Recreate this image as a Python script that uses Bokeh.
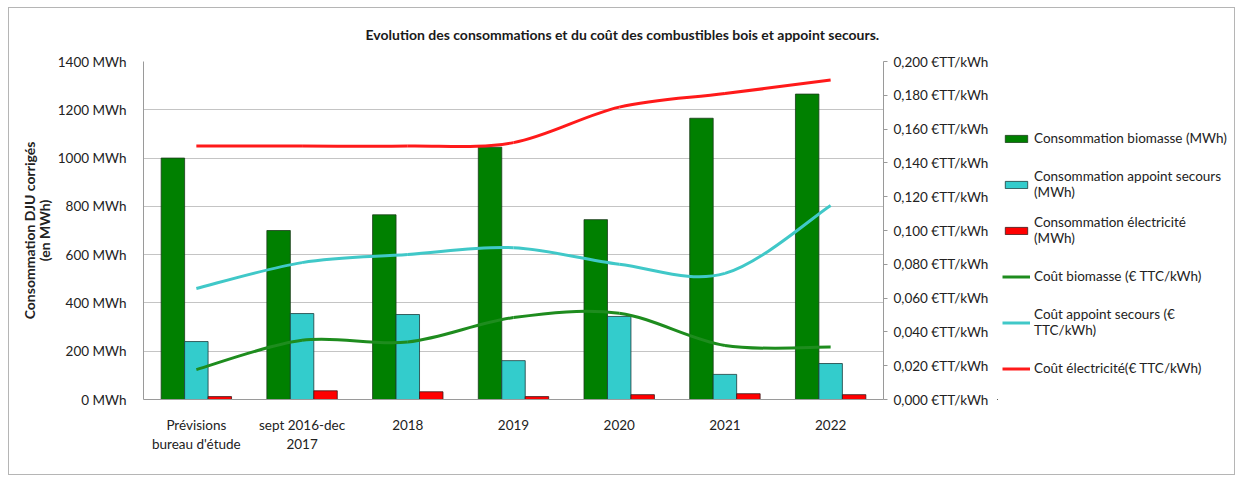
import numpy as np
from bokeh.plotting import figure
from bokeh.layouts import row
from bokeh.models import (LinearAxis, Range1d, FixedTicker, CustomJSTickFormatter,
                          Legend, LegendItem, ColumnDataSource)
from bokeh.transform import dodge
from bokeh.embed import file_html
from bokeh.resources import INLINE

# ---------------- data ----------------
categories = ["Prévisions\nbureau d'étude", "sept 2016-dec\n2017", "2018", "2019",
              "2020", "2021", "2022"]
conso_biomasse = [1000, 700, 765, 1045, 745, 1165, 1265]
conso_appoint = [240, 356, 352, 161, 344, 104, 149]
conso_elec = [12, 36, 32, 12, 20, 24, 20]
cout_biomasse = [0.0177, 0.035, 0.034, 0.0485, 0.051, 0.032, 0.031]
cout_appoint = [0.0657, 0.081, 0.0858, 0.0898, 0.080, 0.0746, 0.1148]
cout_elec = [0.150, 0.150, 0.150, 0.152, 0.173, 0.181, 0.189]

left_ticks = [0, 200, 400, 600, 800, 1000, 1200, 1400]
left_tick_labels = ["0 MWh", "200 MWh", "400 MWh", "600 MWh", "800 MWh",
                    "1000 MWh", "1200 MWh", "1400 MWh"]
right_ticks = [0.0, 0.02, 0.04, 0.06, 0.08, 0.10, 0.12, 0.14, 0.16, 0.18, 0.20]
right_tick_labels = ["0,000 €TT/kWh", "0,020 €TT/kWh", "0,040 €TT/kWh", "0,060 €TT/kWh",
                     "0,080 €TT/kWh", "0,100 €TT/kWh", "0,120 €TT/kWh", "0,140 €TT/kWh",
                     "0,160 €TT/kWh", "0,180 €TT/kWh", "0,200 €TT/kWh"]

series_labels = ["Consommation biomasse (MWh)",
                 "Consommation appoint secours\n(MWh)",
                 "Consommation électricité\n(MWh)",
                 "Coût biomasse (€ TTC/kWh)",
                 "Coût appoint secours (€\nTTC/kWh)",
                 "Coût électricité(€ TTC/kWh)"]

title_text = "Evolution des consommations et du coût des combustibles bois et appoint secours."
y_label = "Consommation DJU corrigés\n(en MWh)"

FONT = "Lato"
GREEN = "#008000"
CYAN = "#33CCCC"
RED = "#FF0000"
LGREEN = "#1E8C1E"
LCYAN = "#40C8C8"
LRED = "#FF1A1A"
BORDER = "1px solid #b5b5b5"

n = len(categories)
xc = np.arange(n) + 0.5

src = ColumnDataSource(dict(x=xc, bio=conso_biomasse, app=conso_appoint, ele=conso_elec))

H = 468
p = figure(width=989, height=H, output_backend="svg", toolbar_location=None,
           x_range=Range1d(0, n), y_range=Range1d(0, 1400),
           min_border_left=134, min_border_right=115, min_border_top=53,
           min_border_bottom=77)
p.extra_y_ranges = {"cost": Range1d(0, 0.2)}
p.outline_line_color = None
p.background_fill_color = "white"
p.border_fill_color = "white"
p.styles = {"border-left": BORDER, "border-top": BORDER, "border-bottom": BORDER}

p.title.text = title_text
p.title.text_font = FONT
p.title.text_font_size = "14px"
p.title.text_font_style = "bold"
p.title.text_color = "#1a1a1a"
p.title.align = "left"
p.title.offset = 222
p.title.vertical_align = "top"
p.title.standoff = 33

bar_style = dict(line_width=0.8)
bw = 0.222
r_bio = p.vbar(x=dodge("x", -bw, range=p.x_range), top="bio", width=bw, source=src,
               fill_color=GREEN, line_color="#1b3b1b", **bar_style)
r_app = p.vbar(x=dodge("x", 0, range=p.x_range), top="app", width=bw, source=src,
               fill_color=CYAN, line_color="#1b3b3b", **bar_style)
r_ele = p.vbar(x=dodge("x", bw, range=p.x_range), top="ele", width=bw, source=src,
               fill_color=RED, line_color="#3b1b1b", **bar_style)


def smooth(xs, ys):
    xs = np.asarray(xs, float)
    ys = np.asarray(ys, float)
    px = np.concatenate([[xs[0]], xs, [xs[-1]]])
    py = np.concatenate([[ys[0]], ys, [ys[-1]]])
    d = {}
    d["x0"] = xs[:-1]
    d["y0"] = ys[:-1]
    d["x1"] = xs[1:]
    d["y1"] = ys[1:]
    d["cx0"] = xs[:-1] + (px[2:-1] - px[0:-3]) / 6
    d["cy0"] = ys[:-1] + (py[2:-1] - py[0:-3]) / 6
    d["cx1"] = xs[1:] - (px[3:] - px[1:-2]) / 6
    d["cy1"] = ys[1:] - (py[3:] - py[1:-2]) / 6
    return ColumnDataSource(d)


def curve(ys, color):
    return p.bezier(x0="x0", y0="y0", x1="x1", y1="y1", cx0="cx0", cy0="cy0",
                    cx1="cx1", cy1="cy1", source=smooth(xc, ys), line_color=color,
                    line_width=3, y_range_name="cost")


r_cb = curve(cout_biomasse, LGREEN)
r_ca = curve(cout_appoint, LCYAN)
r_ce = curve(cout_elec, LRED)

# axes
fmt_code = """
let i = tk.findIndex(t => Math.abs(t - tick) < 1e-6);
return i >= 0 ? lb[i] : '';
"""
yax = p.yaxis[0]
yax.ticker = FixedTicker(ticks=left_ticks)
yax.formatter = CustomJSTickFormatter(args=dict(tk=left_ticks, lb=left_tick_labels),
                                      code=fmt_code)
yax.major_tick_line_color = None
yax.minor_tick_line_color = None
yax.axis_line_color = "#9a9a9a"
yax.major_label_text_font = FONT
yax.major_label_text_font_size = "13.5px"
yax.major_label_text_color = "#222222"
yax.major_label_standoff = 11
yax.axis_label = y_label
yax.axis_label_text_font = FONT
yax.axis_label_text_font_size = "14px"
yax.axis_label_text_font_style = "bold"
yax.axis_label_text_color = "#222222"
yax.axis_label_text_line_height = 0.85
yax.axis_label_standoff = 2

xax = p.xaxis[0]
xax.ticker = FixedTicker(ticks=list(xc))
xax.formatter = CustomJSTickFormatter(args=dict(tk=list(xc), lb=categories),
                                      code=fmt_code)
xax.major_tick_line_color = None
xax.minor_tick_line_color = None
xax.axis_line_color = "#9a9a9a"
xax.major_label_text_font = FONT
xax.major_label_text_font_size = "13.5px"
xax.major_label_text_color = "#222222"
xax.major_label_standoff = 11

rax = LinearAxis(y_range_name="cost", ticker=FixedTicker(ticks=right_ticks),
                 formatter=CustomJSTickFormatter(args=dict(tk=right_ticks,
                                                           lb=right_tick_labels),
                                                 code=fmt_code))
rax.axis_line_color = "#9a9a9a"
rax.major_tick_line_color = "#9a9a9a"
rax.major_tick_out = 4
rax.major_tick_in = 0
rax.minor_tick_line_color = None
rax.major_label_text_font = FONT
rax.major_label_text_font_size = "13.5px"
rax.major_label_text_color = "#222222"
rax.major_label_standoff = 6
p.add_layout(rax, "right")

p.xgrid.visible = False
p.ygrid[0].ticker = FixedTicker(ticks=left_ticks)
p.ygrid.grid_line_color = "#c4c4c4"
p.ygrid.grid_line_width = 1

# ---- legend panel (separate figure, proxy glyphs styled like the series,
#      placed outside the visible range so only their legend swatches show) ----
pl = figure(width=238, height=H, output_backend="svg", toolbar_location=None,
            x_range=Range1d(0, 1), y_range=Range1d(0, 1),
            x_axis_type=None, y_axis_type=None,
            min_border_left=0, min_border_right=0, min_border_top=0, min_border_bottom=0)
pl.outline_line_color = None
pl.grid.visible = False
pl.border_fill_color = "white"
pl.styles = {"border-right": BORDER, "border-top": BORDER, "border-bottom": BORDER}
off = dict(x=[-5.0, -4.0], top=[0.0, 0.0], y=[-5.0, -5.0])
psrc = ColumnDataSource(off)
proxies = [
    pl.vbar(x="x", top="top", width=0.1, source=psrc, fill_color=GREEN, line_color="#1b3b1b", **bar_style),
    pl.vbar(x="x", top="top", width=0.1, source=psrc, fill_color=CYAN, line_color="#1b3b3b", **bar_style),
    pl.vbar(x="x", top="top", width=0.1, source=psrc, fill_color=RED, line_color="#3b1b1b", **bar_style),
    pl.line(x="x", y="y", source=psrc, line_color=LGREEN, line_width=3),
    pl.line(x="x", y="y", source=psrc, line_color=LCYAN, line_width=3),
    pl.line(x="x", y="y", source=psrc, line_color=LRED, line_width=3),
]
legend = Legend(items=[LegendItem(label=l, renderers=[r]) for l, r in zip(series_labels, proxies)],
                location=(5, 11), padding=0, margin=0, spacing=6,
                glyph_width=28, glyph_height=9, label_height=40, label_standoff=4,
                label_text_font=FONT, label_text_font_size="13.5px",
                label_text_line_height=1.35,
                label_text_color="#222222", border_line_alpha=0,
                background_fill_alpha=0)
pl.add_layout(legend, "center")

layout = row(p, pl, spacing=0)
layout.styles = {"margin-left": "8px", "margin-top": "7px"}

open("out.html", "w").write(file_html(layout, INLINE))
